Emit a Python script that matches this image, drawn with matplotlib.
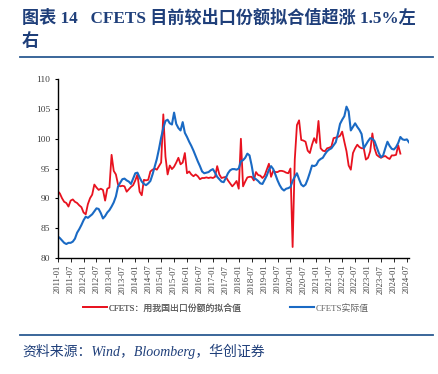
import matplotlib
matplotlib.use("Agg")
import matplotlib.pyplot as plt
from matplotlib.lines import Line2D

# ---------------- data ----------------
red_fit = (
    [91.2, 90.8, 90.0, 89.4, 89.2, 88.6, 89.6, 89.8, 89.4, 89.2, 88.8, 88.5] +   # 2011
    [87.6, 87.3, 89.0, 90.0, 90.6, 92.3, 91.8, 91.4, 91.6, 91.4, 89.6, 91.6] +   # 2012
    [91.8, 97.3, 94.6, 94.0, 92.3, 92.0, 92.1, 92.0, 91.1, 91.5, 91.9, 92.2] +   # 2013
    [93.0, 94.0, 91.1, 90.5, 93.1, 93.0, 93.1, 94.5, 94.8, 95.0, 94.8, 95.4] +   # 2014
    [96.0, 104.1, 97.0, 94.0, 95.5, 94.9, 95.3, 96.0, 96.8, 95.7, 96.0, 97.6] +  # 2015
    [94.2, 94.5, 94.0, 93.7, 94.0, 93.7, 93.2, 93.4, 93.4, 93.5, 93.4, 93.5] +   # 2016
    [93.4, 93.6, 95.4, 94.0, 93.4, 93.5, 93.6, 93.0, 92.5, 92.0, 92.4, 92.9] +   # 2017
    [91.6, 100.0, 92.0, 92.8, 93.5, 93.6, 93.6, 93.0, 94.4, 93.9, 93.8, 93.4] +  # 2018
    [93.8, 94.8, 95.8, 93.6, 94.6, 94.4, 94.4, 94.6, 94.6, 94.5, 94.3, 94.2] +   # 2019
    [95.0, 81.8, 96.5, 102.3, 103.1, 99.8, 99.7, 99.5, 98.0, 97.6, 99.0, 100.1] +  # 2020
    [99.3, 103.0, 98.4, 98.0, 97.9, 98.4, 98.5, 98.7, 100.1, 100.2, 100.3, 100.5] +  # 2021
    [101.2, 99.5, 97.9, 95.5, 94.8, 97.6, 98.4, 99.0, 98.6, 98.4, 98.4, 96.5] +  # 2022
    [96.8, 97.9, 100.9, 98.4, 97.3, 97.0, 96.8, 97.0, 97.1, 96.8, 96.6, 97.2] +  # 2023
    [97.2, 97.3, 98.9, 97.5]                                                     # 2024
)
blue_actual = (
    [83.6, 83.3, 82.9, 82.5, 82.3, 82.5, 82.5, 82.7, 83.2, 84.2, 84.8, 85.5] +   # 2011
    [86.3, 86.9, 86.7, 87.0, 87.3, 87.8, 88.3, 88.2, 87.5, 86.6, 87.0, 87.6] +   # 2012
    [88.0, 88.6, 89.3, 90.3, 92.0, 92.6, 93.2, 93.3, 93.0, 92.8, 92.4, 93.3] +   # 2013
    [94.2, 94.3, 93.5, 92.8, 92.4, 92.2, 92.5, 92.9, 94.0, 95.3, 96.6, 98.3] +   # 2014
    [100.2, 101.8, 103.0, 103.2, 102.6, 102.4, 104.4, 102.5, 101.8, 101.4, 102.8, 101.0] +  # 2015
    [100.3, 99.5, 98.8, 98.0, 97.1, 96.2, 95.4, 94.5, 94.2, 94.3, 94.4, 94.7] +  # 2016
    [94.9, 94.3, 93.6, 93.2, 92.8, 92.7, 93.4, 94.2, 94.7, 94.9, 94.9, 94.8] +   # 2017
    [95.0, 96.2, 96.4, 96.8, 97.5, 97.2, 95.5, 93.4, 93.2, 92.9, 92.5, 92.4] +   # 2018
    [93.1, 93.8, 94.8, 95.4, 94.9, 94.0, 93.0, 92.2, 91.6, 91.3, 91.6, 91.7] +   # 2019
    [91.9, 92.9, 93.6, 94.2, 93.2, 92.3, 92.0, 92.3, 93.2, 94.3, 95.5, 95.4] +   # 2020
    [95.6, 96.3, 96.6, 96.8, 97.4, 97.9, 98.2, 98.4, 98.9, 99.4, 100.8, 102.5] +  # 2021
    [103.2, 103.8, 105.4, 104.6, 101.4, 102.0, 102.6, 102.0, 101.5, 100.8, 98.4, 99.0] +  # 2022
    [99.6, 100.1, 100.0, 99.6, 98.6, 97.6, 96.9, 97.2, 98.4, 99.5, 98.8, 98.3] +  # 2023
    [98.2, 98.6, 99.3, 100.3, 99.9, 99.8, 99.9, 99.4]                           # 2024
)
tick_labels = [f"{y}-{m:02d}" for y in range(2011, 2025) for m in (1, 7)]
y_ticks = [80, 85, 90, 95, 100, 105, 110]
legend_labels = ["CFETS：用我国出口份额的拟合值", "CFETS实际值"]
title_line1 = "图表 14   CFETS 目前较出口份额拟合值超涨 1.5%左"
title_line2 = "右"
source_text = "资料来源：Wind，Bloomberg，华创证券"

# ---------------- style ----------------
serif_cjk = ["Liberation Serif", "Noto Sans CJK SC", "DejaVu Sans"]
plt.rcParams["font.family"] = serif_cjk
RED = "#e8121f"
BLUE = "#1a6ac4"
NAVY = "#1f3f7a"
W, H = 438, 374

fig = plt.figure(figsize=(W / 100, H / 100), dpi=100)

# title
fig.text(22 / W, 1 - 18 / H, title_line1, fontsize=12.3, fontweight="bold",
         color=NAVY, va="center", ha="left")
fig.text(22 / W, 1 - 42 / H, title_line2, fontsize=12.3, fontweight="bold",
         color=NAVY, va="center", ha="left")
fig.add_artist(Line2D([20 / W, 433 / W], [1 - 57 / H, 1 - 57 / H],
                      color="#2b5a92", lw=1.3))

ax = fig.add_axes([57.7 / W, (H - 257.7) / H, (409 - 57.7) / W, (257.7 - 79.3) / H])
x_red = list(range(len(red_fit)))
x_blue = list(range(len(blue_actual)))
l1, = ax.plot(x_red, red_fit, color=RED, lw=1.3)
l2, = ax.plot(x_blue, blue_actual, color=BLUE, lw=1.5)

ax.set_xlim(0, 163)
ax.set_ylim(80, 110)
ax.set_yticks(y_ticks)
ax.set_yticklabels([str(v) for v in y_ticks], fontsize=6.8, color="#404040")
ax.set_xticks(list(range(0, 163, 6)))
ax.set_xticklabels(tick_labels, rotation=90, fontsize=6.2, color="#404040")
for s in ("top", "right"):
    ax.spines[s].set_visible(False)
for s in ("left", "bottom"):
    ax.spines[s].set_color("black")
    ax.spines[s].set_linewidth(1.0)
ax.tick_params(axis="y", direction="out", length=2.5, width=0.8, pad=3)
ax.tick_params(axis="x", direction="out", length=3, width=0.6, pad=2)

leg_kw = dict(loc="center left", frameon=False, fontsize=6.4, handlelength=2.7,
              handletextpad=0.2, borderpad=0, borderaxespad=0, labelcolor="#606060")
lg1 = fig.legend([l1], [legend_labels[0]], bbox_to_anchor=(83 / W, 1 - 308 / H), **leg_kw)
fig.legend([l2], [legend_labels[1]], bbox_to_anchor=(290 / W, 1 - 308 / H), **leg_kw)
fig.add_artist(lg1)

fig.add_artist(Line2D([20 / W, 433 / W], [1 - 335 / H, 1 - 335 / H],
                      color="#2b5a92", lw=1.3))
fig.text(22 / W, 1 - 351 / H, source_text, fontsize=10, style="italic",
         color=NAVY, va="center", ha="left")

fig.savefig("out.png", dpi=100)
